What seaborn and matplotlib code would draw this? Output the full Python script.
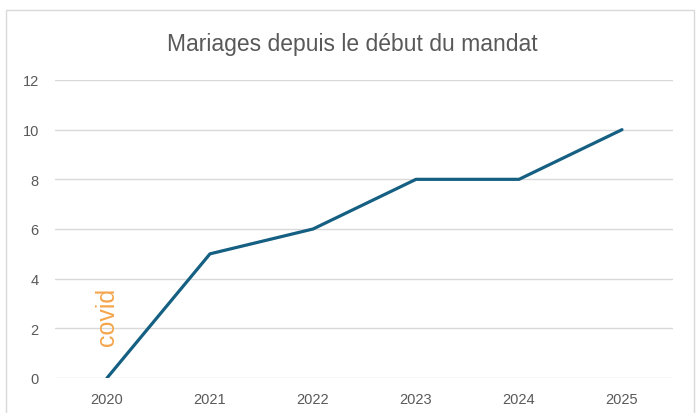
import matplotlib
matplotlib.use("Agg")
import matplotlib.pyplot as plt
import seaborn as sns
import pandas as pd
from matplotlib.patches import Rectangle

years = ["2020", "2021", "2022", "2023", "2024", "2025"]
mariages = [0, 5, 6, 8, 8, 10]
title = "Mariages depuis le début du mandat"
annotation = "covid"

sns.set_theme(style="white")
plt.rcParams["font.family"] = ["Liberation Sans", "DejaVu Sans"]

df = pd.DataFrame({"year": years, "value": mariages})

fig = plt.figure(figsize=(6.97, 4.14), dpi=100)
ax = fig.add_axes([55.5/697, 35/414, 618/697, 298/414])

sns.lineplot(data=df, x="year", y="value", ax=ax, color="#156082", linewidth=2.3,
             solid_capstyle="round")

ax.set_xlim(-0.5, 5.5)
ax.set_ylim(0, 12)
ax.set_yticks(range(0, 13, 2))
ax.grid(axis="y", color="#d9d9d9", linewidth=1)
ax.grid(axis="x", visible=False)
ax.set_axisbelow(True)
for s in ax.spines.values():
    s.set_visible(False)
ax.set_xlabel("")
ax.set_ylabel("")
ax.tick_params(axis="both", length=0, colors="#595959", labelsize=10.5)
ax.tick_params(axis="y", pad=12)
ax.tick_params(axis="x", pad=10)

ax.text(0, 2.5, annotation, rotation=90, ha="center", va="center",
        color="#F5A54A", fontsize=18)

fig.text(352/697, 1 - 44/414, title, ha="center", va="center",
         fontsize=16.5, color="#595959")

fig.patches.append(Rectangle((6/697, -0.05), 688/697, 1.05 - 11/414,
                             transform=fig.transFigure, fill=False,
                             edgecolor="#d9d9d9", linewidth=1))

fig.savefig("out.png", dpi=100)
